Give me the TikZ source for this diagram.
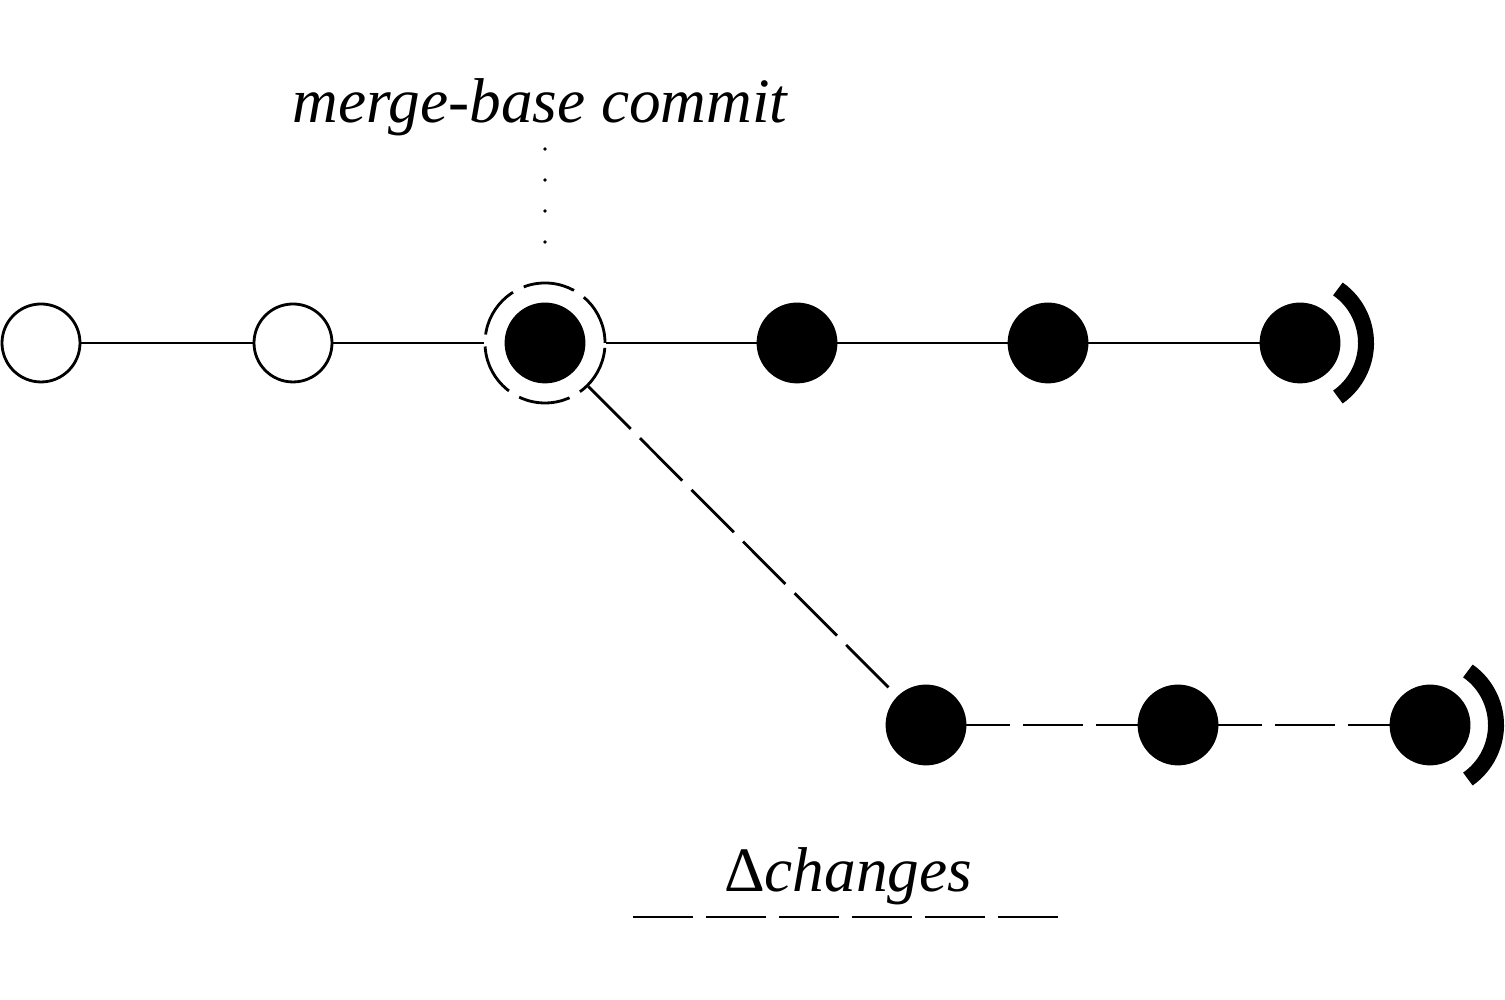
\documentclass[tikz,border=0pt]{standalone}
\usepackage{amsmath}
\usepackage{fontspec}
\setmainfont{Liberation Serif}
\usepackage{tikz}

\begin{document}
\begin{tikzpicture}[
        old/.style={circle, draw, thick, fill=white, minimum size=0.78cm, inner sep=0pt},
        new/.style={circle, draw, thick, fill=black, minimum size=0.78cm, inner sep=0pt},
        branchline/.style={thick, dash pattern=on 0.6cm off 0.13cm},
        tagline/.style={line width=1.1pt, line cap=round, dash pattern=on 0pt off 0.31cm},
        tipmark/.style={line width=0.16cm},
        caption/.style={font=\fontsize{18}{22}\selectfont\itshape, inner sep=0pt}]
                    \useasboundingbox (0, 0) rectangle (15.05, 10);

                    \node[old] (o1) at (0.41, 6.57) {};
                    \node[old] (o2) at (2.93, 6.57) {};
                    \node[new] (mb) at (5.45, 6.57) {};
                    \node[circle, draw, branchline, dash pattern=on 0.52cm off 0.12cm, minimum size=1.2cm] (mbring) at (mb) {};
                    \node[new] (m1) at (7.97, 6.57) {};
                    \node[new] (m2) at (10.48, 6.57) {};
                    \node[new] (m3) at (13.00, 6.57) {};
                    \node[new] (t1) at (9.26, 2.75) {};
                    \node[new] (t2) at (11.78, 2.75) {};
                    \node[new] (t3) at (14.30, 2.75) {};

                    \node[caption, anchor=base] (mblabel) at (5.40, 8.77) {merge-base commit};
                    \node[caption, anchor=base] (dlabel) at (8.48, 1.08) {{\upshape Δ}changes};
                    \coordinate (mbtag) at (5.45, 8.51);

                    \draw[tagline, shorten >=0.3cm] (mbtag) -- (mbring.north);
                    \draw[thick] (o1) -- (o2);
                    \draw[thick] (o2) -- (mbring);
                    \draw[thick] (mbring) -- (m1);
                    \draw[thick] (m1) -- (m2);
                    \draw[thick] (m2) -- (m3);
                    \draw[branchline] (mbring) -- (t1);
                    \draw[branchline, dash phase=0.16cm] (t1) -- (t2);
                    \draw[branchline, dash phase=0.16cm] (t2) -- (t3);
                    \draw[branchline] (6.33, 0.83) -- (10.60, 0.83);

                    \draw[tipmark] ([shift={(55:0.66)}]m3.center) arc[start angle=55, end angle=-55, radius=0.66];
                    \draw[tipmark] ([shift={(55:0.66)}]t3.center) arc[start angle=55, end angle=-55, radius=0.66];
                \end{tikzpicture}
\end{document}
